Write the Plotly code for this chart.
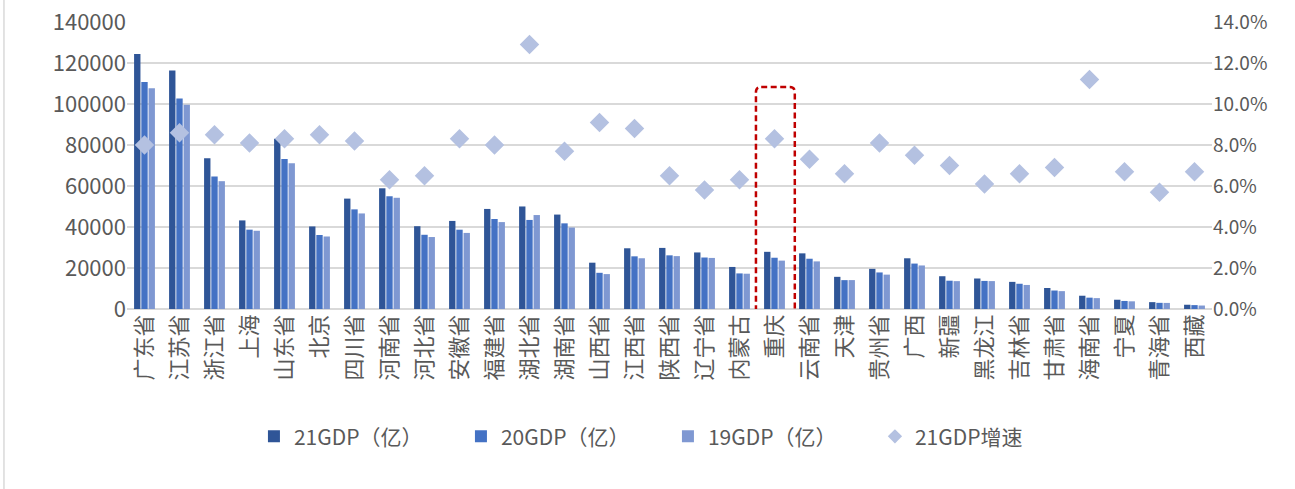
import plotly.graph_objects as go

provinces = ["广东省", "江苏省", "浙江省", "上海", "山东省", "北京", "四川省", "河南省", "河北省", "安徽省",
             "福建省", "湖北省", "湖南省", "山西省", "江西省", "陕西省", "辽宁省", "内蒙古", "重庆", "云南省",
             "天津", "贵州省", "广西", "新疆", "黑龙江", "吉林省", "甘肃省", "海南省", "宁夏", "青海省", "西藏"]

gdp21 = [124370, 116364, 73516, 43215, 83096, 40270, 53851, 58887, 40391, 42959,
         48810, 50013, 46063, 22590, 29620, 29801, 27584, 20514, 27894, 27147,
         15695, 19586, 24741, 15984, 14879, 13236, 10243, 6475, 4522, 3347, 2080]
gdp20 = [110761, 102719, 64613, 38701, 73129, 36103, 48599, 54997, 36207, 38681,
         43904, 43444, 41782, 17652, 25692, 26182, 25115, 17360, 25003, 24522,
         14084, 17827, 22157, 13798, 13699, 12311, 9017, 5532, 3921, 3006, 1903]
gdp19 = [107671, 99632, 62352, 38155, 71068, 35371, 46616, 54259, 35105, 37114,
         42395, 45828, 39752, 17027, 24758, 25793, 24910, 17213, 23606, 23224,
         14104, 16769, 21237, 13597, 13613, 11727, 8718, 5309, 3749, 2966, 1698]
growth21 = [0.080, 0.086, 0.085, 0.081, 0.083, 0.085, 0.082, 0.063, 0.065, 0.083,
            0.080, 0.129, 0.077, 0.091, 0.088, 0.065, 0.058, 0.063, 0.083, 0.073,
            0.066, 0.081, 0.075, 0.070, 0.061, 0.066, 0.069, 0.112, 0.067, 0.057, 0.067]

series_names = ["21GDP（亿）", "20GDP（亿）", "19GDP（亿）", "21GDP增速"]
bar_colors = ["#2F5597", "#4472C4", "#7F98D2"]
diamond_color = "#B4C1E1"
highlight = "重庆"

FONT = "Noto Sans CJK SC"
TXT = "#595959"

fig = go.Figure()
for name, vals, col in zip(series_names[:3], [gdp21, gdp20, gdp19], bar_colors):
    fig.add_trace(go.Bar(x=provinces, y=vals, name=name, marker=dict(color=col, line=dict(width=0)),
                         yaxis="y"))
fig.add_trace(go.Scatter(x=provinces, y=growth21, name=series_names[3], mode="markers",
                         marker=dict(symbol="diamond", size=15, color=diamond_color),
                         yaxis="y2", showlegend=False))
# legend-only entry with a smaller diamond, as in the reference legend
fig.add_trace(go.Scatter(x=[None], y=[None], name=series_names[3], mode="markers",
                         marker=dict(symbol="diamond", size=11, color=diamond_color),
                         yaxis="y2"))

# highlight box around 重庆 (rounded dashed rectangle)
i = provinces.index(highlight)
x0, x1 = i - 0.53, i + 0.58
y0, y1 = -6800, 108300
rx, ry = 0.15, 2500
path = (f"M {x0+rx},{y1} L {x1-rx},{y1} Q {x1},{y1} {x1},{y1-ry} "
        f"L {x1},{y0+ry} Q {x1},{y0} {x1-rx},{y0} L {x0+rx},{y0} "
        f"Q {x0},{y0} {x0},{y0+ry} L {x0},{y1-ry} Q {x0},{y1} {x0+rx},{y1} Z")
shapes = [
    dict(type="path", path=path, xref="x", yref="y",
         line=dict(color="#C00000", width=2.5, dash="6px,3.5px"), layer="above"),
    dict(type="line", xref="paper", yref="paper", x0=-0.1134, x1=-0.1134, y0=-0.627, y1=1.08,
         line=dict(color="#D9D9D9", width=1.5)),
]

fig.update_layout(
    width=1295, height=489,
    margin=dict(l=127, r=83, t=22, b=180, autoexpand=False),
    paper_bgcolor="white", plot_bgcolor="white",
    font=dict(family=FONT, color=TXT, size=21),
    barmode="group", bargap=0.38, bargroupgap=0.12,
    showlegend=True,
    legend=dict(orientation="h", x=0.117, xanchor="left", y=-0.445, yanchor="middle",
                font=dict(size=21, color=TXT), entrywidth=162, itemwidth=30,
                traceorder="normal"),
    xaxis=dict(type="category", range=[-0.5, len(provinces) - 0.5], autorange=False,
               tickangle=-90, showgrid=False, showline=False, automargin=False,
               ticks="", tickfont=dict(size=22, color=TXT), zeroline=False),
    yaxis=dict(range=[0, 140000], dtick=20000, tickformat="d", showgrid=True, gridcolor="#D9D9D9",
               gridwidth=1.5, zeroline=True, zerolinecolor="#D9D9D9", zerolinewidth=1.5,
               showline=False, ticks="", automargin=False, tickfont=dict(size=22, color=TXT)),
    yaxis2=dict(range=[0, 0.14], dtick=0.02, tickformat=".1%", overlaying="y", side="right",
                showgrid=False, zeroline=False, showline=False, ticks="", automargin=False,
                tickfont=dict(size=19, color=TXT)),
    shapes=shapes,
)

fig.write_html("out.html", config={"displayModeBar": False},
               post_script="document.body.style.margin='0';document.body.style.overflow='hidden';")
